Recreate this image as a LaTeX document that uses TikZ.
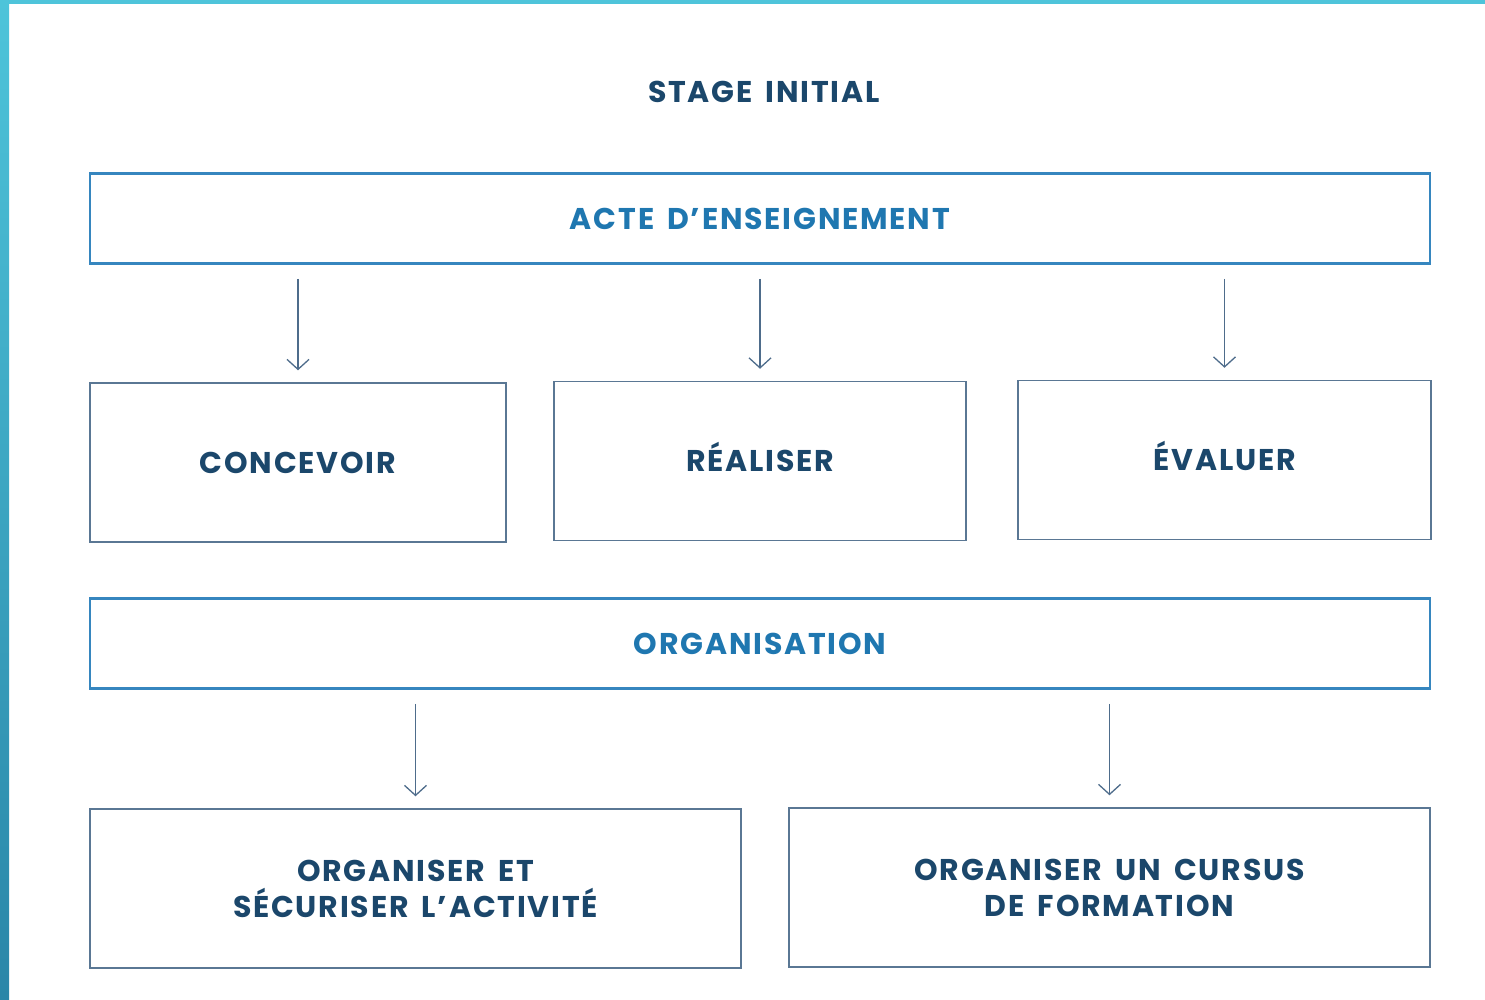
\documentclass[tikz,border=0pt]{standalone}
\usepackage{fontspec}
\setmainfont{Poppins}[LetterSpace=6, WordSpace=1.6]
\usetikzlibrary{arrows.meta}
\definecolor{navy}{HTML}{1B476B}
\definecolor{acteblue}{HTML}{1F77B0}
\definecolor{frameblue}{HTML}{3686BF}
\definecolor{framegrey}{HTML}{5A7794}
\definecolor{arrowgrey}{HTML}{4E6C8B}
\definecolor{sea}{HTML}{4EC4DA}
\definecolor{deepsea}{HTML}{2A86A8}
\begin{document}
\begin{tikzpicture}[x=1pt, y=-1pt,
    txt/.style={font=\fontsize{30}{36}\selectfont\bfseries, align=center},
    oneline/.style={text height=21.5pt, text depth=0pt},
    bluebox/.style={txt, oneline, draw=frameblue, line width=2.5pt, text=acteblue,
      minimum width=1340pt, minimum height=90pt},
    greybox/.style={txt, draw=framegrey, line width=1.5pt, text=navy,
      minimum height=159pt},
    down/.style={draw=arrowgrey, line width=1.3pt,
      -{Straight Barb[length=10pt, width=22pt]},
      shorten <=14pt, shorten >=12pt}]
  \useasboundingbox (0,0) rectangle (1485,999);
  % background edges
  \shade[top color=sea, bottom color=deepsea] (0,0) rectangle (9,999);
  \fill[sea] (9,0) rectangle (1485,4);

  \node[txt, oneline, text=navy] (stage) at (764,92) {STAGE INITIAL};

  \node[bluebox] (acte) at (760,218.5) {ACTE D’ENSEIGNEMENT};
  \node[greybox, oneline, minimum width=416pt] (concevoir) at (298,462.5) {CONCEVOIR};
  \node[greybox, oneline, minimum width=412pt] (realiser) at (760,461) {RÉALISER};
  \node[greybox, oneline, minimum width=413pt] (evaluer) at (1224.5,460) {ÉVALUER};

  \node[bluebox] (orga) at (760,643.5) {ORGANISATION};
  \node[greybox, minimum width=651pt, text depth=0pt] (securiser) at (415.5,888.5)
    {ORGANISER ET\\SÉCURISER L’ACTIVITÉ};
  \node[greybox, minimum width=641pt, text depth=0pt] (cursus) at (1109.5,887.5)
    {ORGANISER UN CURSUS\\DE FORMATION};

  \foreach \b in {concevoir, realiser, evaluer}
  {
    \draw[down] (acte.south -| \b.north) -- (\b.north);
  }
  \foreach \b in {securiser, cursus}
  {
    \draw[down] (orga.south -| \b.north) -- (\b.north);
  }
\end{tikzpicture}
\end{document}
